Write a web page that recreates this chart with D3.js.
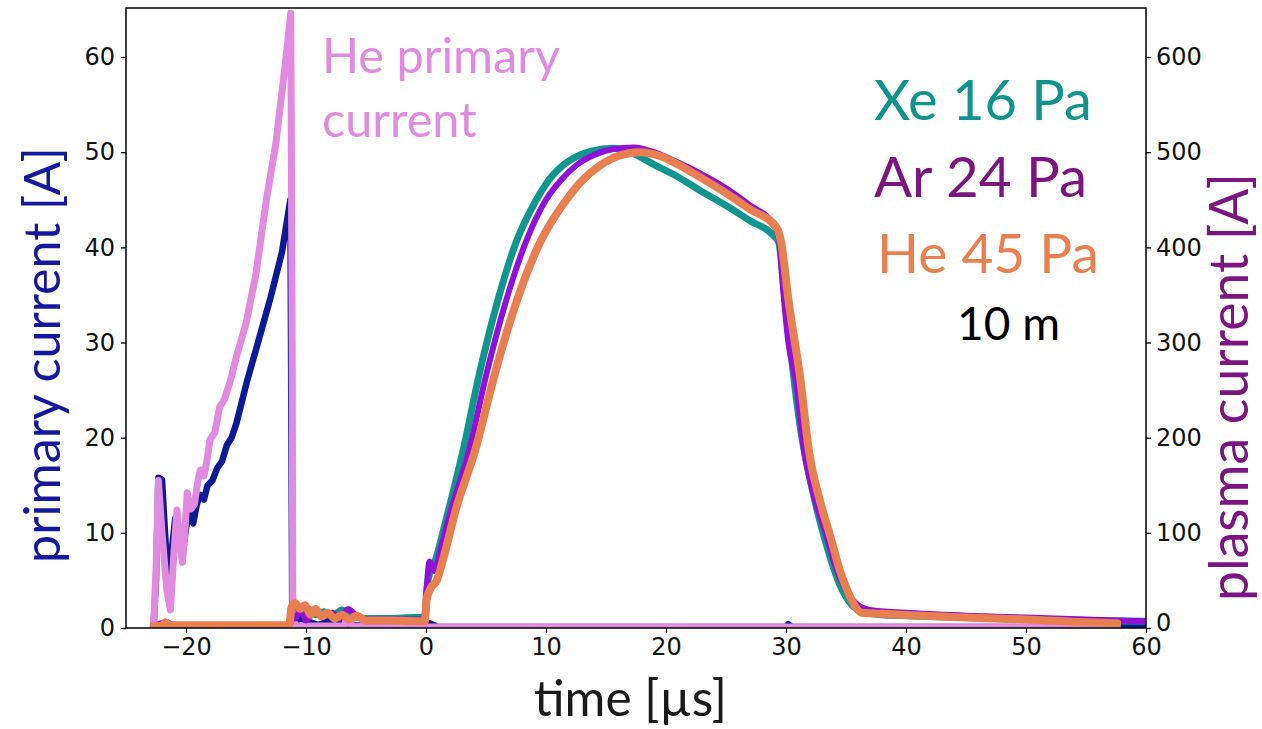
<!DOCTYPE html>
<html>
<head>
<meta charset="utf-8">
<script src="https://cdn.jsdelivr.net/npm/d3@7"></script>
<style>
  html, body { margin: 0; padding: 0; background: #fff; }
  svg { display: block; }
</style>
</head>
<body>
<div id="chart"></div>
<script>
// ---------------- data ----------------
// time in µs, currents in A
const xTicks = [-20, -10, 0, 10, 20, 30, 40, 50, 60];
const leftTicks = [0, 10, 20, 30, 40, 50, 60];
const rightTicks = [0, 100, 200, 300, 400, 500, 600];

// plasma current (right axis)
const xePlasma = [[-22.7,2],[-21.5,4],[-21,2],[-15,2],[-11.4,2],[-11.2,18],[-10.8,22],[-10.3,16],[-9.8,20],[-9.2,14],[-8.5,17],[-7.8,12],[-7,19],[-6.5,14],[-6,12],[-5,10],[-3,10],[-1,11],[-0.1,11],[0.05,38],[0.4,62],[0.8,72],[1.4,100],[2.2,140],[3.1,187],[4.5,270],[6,345],[7.5,405],[9.2,450],[10.5,475],[11.4,486],[12.5,495],[13.8,501],[15.6,504],[17,500],[19,487],[21,474],[22.8,460],[25,444],[27,428],[28.9,413],[29.4,405],[29.8,360],[30.4,290],[31.2,210],[32.2,145],[33.2,95],[34.5,45],[35.5,24],[36.5,17],[38,14],[40,13],[45,11],[50,9],[55,8],[60,7]];
const arPlasma = [[-22.7,2],[-21.6,6],[-21,3],[-15,2],[-11.4,2],[-11.2,15],[-10.9,10],[-10.4,20],[-10,8],[-9.3,18],[-8.6,12],[-7.8,16],[-7.2,10],[-6.5,20],[-5.8,13],[-5,9],[-3,9],[-1,9],[-0.1,9],[0.05,40],[0.3,70],[0.7,60],[1.2,82],[2,120],[3.6,187],[5,265],[6.7,345],[8.3,405],[10,450],[11.2,470],[12.5,486],[14,497],[15.5,503],[17.3,505],[19,500],[20.5,492],[22.8,478],[25,462],[27,444],[28.9,425],[29.4,410],[29.8,350],[30.2,300],[30.8,261],[31.5,187],[32.3,140],[33.3,100],[34.2,62],[35,40],[36,24],[37,19],[40,16],[45,13],[50,11],[55,9],[57.5,8],[60,7]];
const hePlasma = [[-22.7,2],[-22,2],[-21.7,6],[-21.4,3],[-15,3],[-11.4,3],[-11.2,22],[-10.9,26],[-10.5,20],[-10.1,24],[-9.6,14],[-9.2,20],[-8.7,12],[-8.2,16],[-7.6,10],[-7,14],[-6.4,9],[-5.8,13],[-5,8],[-3,8],[-1,7],[-0.1,7],[0.05,30],[0.4,42],[0.9,50],[1.4,71],[2.5,125],[4.1,187],[5.8,270],[7.6,345],[9.5,405],[11.7,450],[13,470],[14.5,486],[16,496],[17.8,500],[19.5,496],[21,487],[22.8,474],[25,457],[27,440],[29.2,421],[29.6,405],[30.2,345],[31.2,261],[31.9,187],[32.8,135],[33.7,96],[34.5,60],[35.2,37],[35.8,22],[36.3,16],[38,15],[39.5,14],[45,11],[50,9],[55,6],[57.6,5]];

// primary current (left axis)
const arPrimary = [[-22.7,0.3],[-22.5,5],[-22.3,15.8],[-22.0,15.6],[-21.7,9],[-21.5,5.5],[-21.2,8],[-20.9,11.5],[-20.6,9],[-20.3,7.5],[-20.0,10.5],[-19.7,12.2],[-19.4,11],[-19.1,13],[-18.8,14],[-18.5,13.5],[-18.2,15],[-17.8,15.5],[-17.4,16.8],[-17.0,17.5],[-16.6,19.2],[-16.2,20],[-15.8,21.5],[-15.4,23.5],[-14.9,26],[-14.0,30],[-13,34.5],[-12,39.5],[-11.3,45],[-11.15,2],[-11.0,0.5],[-10.5,1],[-9,0.3],[-7.5,1],[-7,0.4],[-5,0.2],[0,0.2],[0.3,0.5],[1,0.1],[30,0.1],[30.2,0.4],[30.5,0.1],[60,0.1]];
const hePrimary = [[-22.7,0.3],[-22.5,6],[-22.3,15.5],[-22.0,10],[-21.6,4],[-21.3,1.9],[-21.0,8],[-20.75,12.4],[-20.5,9],[-20.3,6.9],[-20.1,10],[-19.9,14.2],[-19.6,12.5],[-19.3,13],[-19.0,15.5],[-18.8,16.6],[-18.5,16],[-18.2,18],[-18.0,19.8],[-17.6,20.5],[-17.2,23.2],[-16.8,24],[-16.3,26],[-15.8,28.5],[-15,32],[-14.2,37],[-13.3,45],[-12.5,51],[-11.6,60.7],[-11.27,64.6],[-11.15,30],[-11.1,0.8],[-10.8,0.2],[-6.8,0.2],[-6.5,1.8],[-6.2,0.2],[0,0.1],[57.6,0.1]];

// ---------------- layout ----------------
const W = 1262, H = 729;
const M = { left: 126, right: 1146, top: 8, bottom: 628 };

const svg = d3.select("#chart").append("svg").attr("width", W).attr("height", H);

const x = d3.scaleLinear().domain([-25, 60]).range([M.left, M.right]);
const yL = d3.scaleLinear().domain([0, 65.15]).range([M.bottom, M.top]);
const yR = d3.scaleLinear().domain([0, 651.5]).range([M.bottom, M.top]);

const tickFont = "'DejaVu Sans', sans-serif";
const labelFont = "Lato, 'Open Sans', sans-serif";

// axes
function styleAxis(g) {
  g.selectAll("path").remove();
  g.selectAll("line").attr("stroke", "#000").attr("stroke-width", 1.3);
  g.selectAll("text").attr("font-family", tickFont).attr("font-size", 24).attr("fill", "#111");
}
svg.append("g").attr("transform", `translate(0,${M.bottom})`)
  .call(d3.axisBottom(x).tickValues(xTicks).tickSize(5).tickPadding(5).tickFormat(d => d < 0 ? "\u2212" + Math.abs(d) : d))
  .call(styleAxis);
svg.append("g").attr("transform", `translate(${M.left},0)`)
  .call(d3.axisLeft(yL).tickValues(leftTicks).tickSize(5).tickPadding(6))
  .call(styleAxis);
const rAxis = svg.append("g").attr("transform", `translate(${M.right},0)`)
  .call(d3.axisRight(yR).tickValues(rightTicks).tickSize(5).tickPadding(5))
  .call(styleAxis);
// lift the right-hand "0" a little so it clears the "60" below it
rAxis.selectAll(".tick").filter(d => d === 0).select("text").attr("dy", "0.12em");

// lines
svg.append("clipPath").attr("id", "clip").append("rect")
  .attr("x", M.left).attr("y", M.top).attr("width", M.right - M.left).attr("height", M.bottom - M.top);
const plot = svg.append("g").attr("clip-path", "url(#clip)");

const lineL = d3.line().x(d => x(d[0])).y(d => yL(d[1]));
const lineR = d3.line().x(d => x(d[0])).y(d => yR(d[1])).curve(d3.curveMonotoneX);

const series = [
  { data: arPrimary, gen: lineL, color: "#0d1a96", w: 6.5 },
  { data: hePrimary, gen: lineL, color: "#e08ae0", w: 7 },
  { data: xePlasma, gen: lineR, color: "#11968f", w: 7 },
  { data: arPlasma, gen: lineR, color: "#9010d8", w: 6 },
  { data: hePlasma, gen: lineR, color: "#e87f50", w: 8 }
];
series.forEach(s => {
  plot.append("path").datum(s.data).attr("d", s.gen)
    .attr("fill", "none").attr("stroke", s.color).attr("stroke-width", s.w)
    .attr("stroke-linejoin", "round").attr("stroke-linecap", "round");
});

// frame
svg.append("rect").attr("x", M.left).attr("y", M.top)
  .attr("width", M.right - M.left).attr("height", M.bottom - M.top)
  .attr("fill", "none").attr("stroke", "#000").attr("stroke-width", 1.5);

// texts, fitted to the widths they occupy in the reference
function fitText(sel, width) {
  const len = sel.node().getComputedTextLength();
  const fs = parseFloat(sel.attr("font-size"));
  sel.attr("font-size", (fs * width / len).toFixed(2));
  return sel;
}
function addText(str, px, py, color, fs, width, rotate) {
  const t = svg.append("text").text(str)
    .attr("font-family", labelFont).attr("font-size", fs).attr("fill", color);
  if (rotate) {
    t.attr("transform", `translate(${px},${py}) rotate(-90)`);
  } else {
    t.attr("x", px).attr("y", py);
  }
  if (width) fitText(t, width);
  return t;
}

const hp = addText("He primary", 322, 73, "#e08ae0", 44, 238);
addText("current", 322, 137, "#e08ae0", hp.attr("font-size"), null);
addText("Xe 16 Pa", 874, 120, "#0e938d", 56, 218);
addText("Ar 24 Pa", 874, 197, "#7b1580", 56, 213);
addText("He 45 Pa", 877, 273, "#e8804f", 56, 222);
addText("10 m", 957, 340, "#000", 46, 103);
addText("time [\u00b5s]", 534, 716, "#1a1a1a", 46, 193);
addText("primary current [A]", 60, 563, "#15189a", 44, 416, true);
addText("plasma current [A]", 1248, 601, "#7b1580", 44, 428, true);
</script>
</body>
</html>
